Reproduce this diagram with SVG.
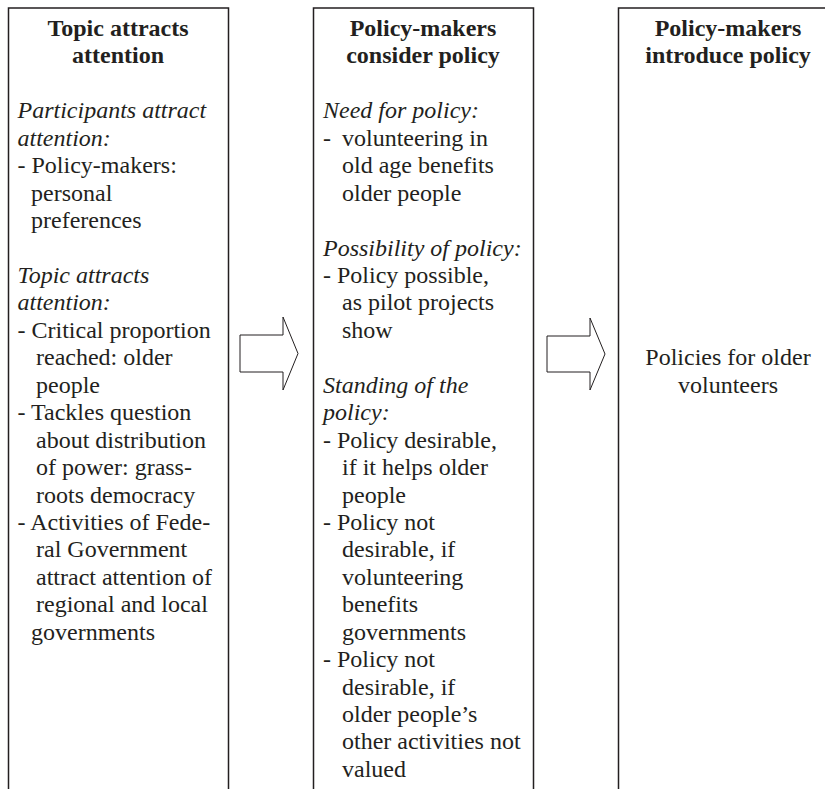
<svg xmlns="http://www.w3.org/2000/svg" width="825" height="789" viewBox="0 0 825 789">
<defs>
<style>
.box{fill:none;stroke:#231f20;stroke-width:1.5}
.arrow{fill:#fff;stroke:#231f20;stroke-width:1}
text{font-family:"Liberation Serif","Times New Roman",serif;font-size:24px;fill:#231f20}
.h{font-weight:bold;text-anchor:middle}
.i{font-style:italic}
.c{text-anchor:middle}
</style>
</defs>
<rect width="825" height="789" fill="#fff"/>
<g id="node-topic">
<path class="box" d="M8.5,789 V8 H228.5 V789"/>
<text class="h" x="118" y="36">Topic attracts</text>
<text class="h" x="118" y="63.4">attention</text>
<text class="i" x="17.5" y="118.3">Participants attract</text>
<text class="i" x="17.5" y="145.8">attention:</text>
<text x="17.5" y="173.2">- Policy-makers:</text>
<text x="31" y="200.6">personal</text>
<text x="31" y="228.1">preferences</text>
<text class="i" x="17.5" y="283">Topic attracts</text>
<text class="i" x="17.5" y="310.4">attention:</text>
<text x="17.5" y="337.8">- Critical proportion</text>
<text x="36" y="365.3">reached: older</text>
<text x="36" y="392.7">people</text>
<text x="17.5" y="420.2">- Tackles question</text>
<text x="36" y="447.6">about distribution</text>
<text x="36" y="475">of power: grass-</text>
<text x="36" y="502.5">roots democracy</text>
<text x="17.5" y="529.9">- Activities of Fede-</text>
<text x="36" y="557.4">ral Government</text>
<text x="36" y="584.8">attract attention of</text>
<text x="36" y="612.2">regional and local</text>
<text x="31" y="639.7">governments</text>
</g>
<g id="node-consider">
<path class="box" d="M313.5,789 V8 H533.5 V789"/>
<text class="h" x="423" y="36">Policy-makers</text>
<text class="h" x="423" y="63.4">consider policy</text>
<text class="i" x="323" y="118.3">Need for policy:</text>
<text x="323" y="145.8">-</text>
<text x="342" y="145.8">volunteering in</text>
<text x="342" y="173.2">old age benefits</text>
<text x="342" y="200.6">older people</text>
<text class="i" x="323" y="255.5">Possibility of policy:</text>
<text x="323" y="283">- Policy possible,</text>
<text x="342" y="310.4">as pilot projects</text>
<text x="342" y="337.8">show</text>
<text class="i" x="323" y="392.7">Standing of the</text>
<text class="i" x="323" y="420.2">policy:</text>
<text x="323" y="447.6">- Policy desirable,</text>
<text x="342" y="475">if it helps older</text>
<text x="342" y="502.5">people</text>
<text x="323" y="529.9">- Policy not</text>
<text x="342" y="557.4">desirable, if</text>
<text x="342" y="584.8">volunteering</text>
<text x="342" y="612.2">benefits</text>
<text x="342" y="639.7">governments</text>
<text x="323" y="667.1">- Policy not</text>
<text x="342" y="694.6">desirable, if</text>
<text x="342" y="722">older people’s</text>
<text x="342" y="749.4">other activities not</text>
<text x="342" y="776.9">valued</text>
</g>
<g id="node-introduce">
<path class="box" d="M618.5,789 V8 H830"/>
<text class="h" x="728" y="36">Policy-makers</text>
<text class="h" x="728" y="63.4">introduce policy</text>
<text class="c" x="728" y="365.3">Policies for older</text>
<text class="c" x="728" y="392.7">volunteers</text>
</g>
<g id="connectors">
<polygon class="arrow" points="240,335 283,335 283,317 298,353.5 283,390 283,372 240,372"/>
<polygon class="arrow" points="547,336 590,336 590,318 605,354 590,390 590,372 547,372"/>
</g>
</svg>
